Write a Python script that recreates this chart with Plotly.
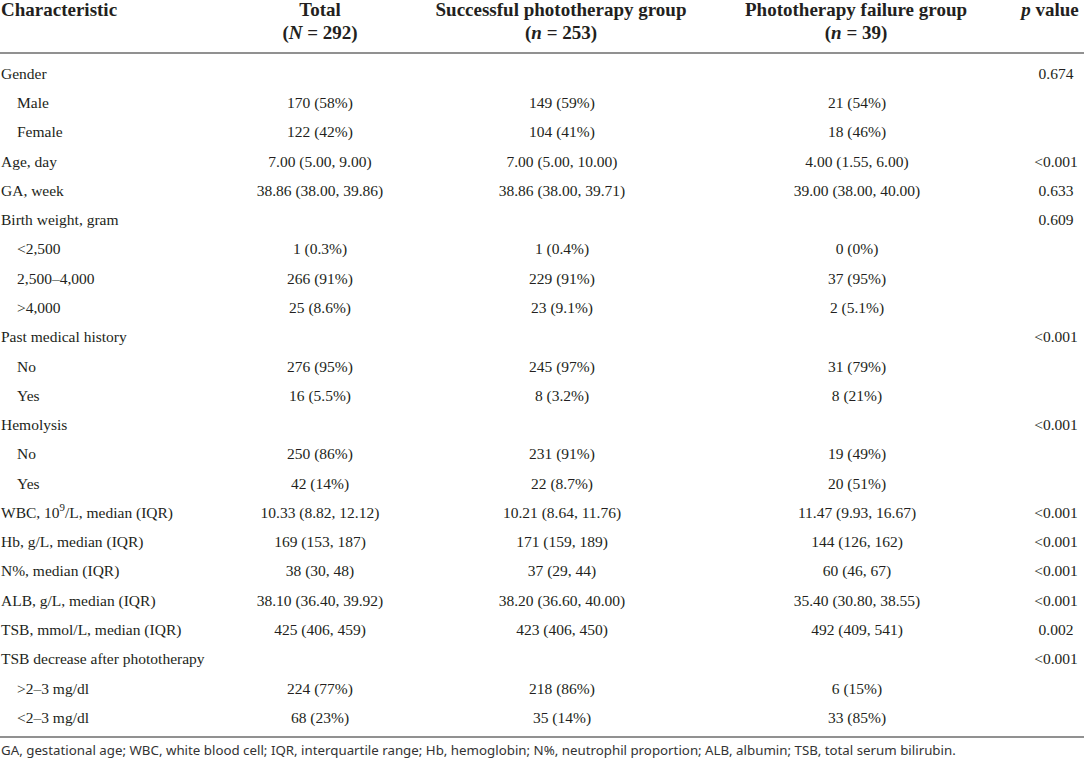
import plotly.graph_objects as go

# table contents (row order as printed)
characteristics = ["Gender", "Male", "Female", "Age, day", "GA, week", "Birth weight, gram",
                   "<2,500", "2,500–4,000", ">4,000", "Past medical history", "No", "Yes",
                   "Hemolysis", "No", "Yes", "WBC, 10<sup>9</sup>/L, median (IQR)",
                   "Hb, g/L, median (IQR)", "N%, median (IQR)", "ALB, g/L, median (IQR)",
                   "TSB, mmol/L, median (IQR)", "TSB decrease after phototherapy",
                   ">2–3 mg/dl", "<2–3 mg/dl"]
is_subrow = [False, True, True, False, False, False, True, True, True, False, True, True,
             False, True, True, False, False, False, False, False, False, True, True]

total = ["", "170 (58%)", "122 (42%)", "7.00 (5.00, 9.00)", "38.86 (38.00, 39.86)", "",
         "1 (0.3%)", "266 (91%)", "25 (8.6%)", "", "276 (95%)", "16 (5.5%)", "",
         "250 (86%)", "42 (14%)", "10.33 (8.82, 12.12)", "169 (153, 187)", "38 (30, 48)",
         "38.10 (36.40, 39.92)", "425 (406, 459)", "", "224 (77%)", "68 (23%)"]
success = ["", "149 (59%)", "104 (41%)", "7.00 (5.00, 10.00)", "38.86 (38.00, 39.71)", "",
           "1 (0.4%)", "229 (91%)", "23 (9.1%)", "", "245 (97%)", "8 (3.2%)", "",
           "231 (91%)", "22 (8.7%)", "10.21 (8.64, 11.76)", "171 (159, 189)", "37 (29, 44)",
           "38.20 (36.60, 40.00)", "423 (406, 450)", "", "218 (86%)", "35 (14%)"]
failure = ["", "21 (54%)", "18 (46%)", "4.00 (1.55, 6.00)", "39.00 (38.00, 40.00)", "",
           "0 (0%)", "37 (95%)", "2 (5.1%)", "", "31 (79%)", "8 (21%)", "",
           "19 (49%)", "20 (51%)", "11.47 (9.93, 16.67)", "144 (126, 162)", "60 (46, 67)",
           "35.40 (30.80, 38.55)", "492 (409, 541)", "", "6 (15%)", "33 (85%)"]
p_values = ["0.674", "", "", "<0.001", "0.633", "0.609", "", "", "", "<0.001", "", "",
            "<0.001", "", "", "<0.001", "<0.001", "<0.001", "<0.001", "0.002", "<0.001", "", ""]

header_top = ["Characteristic", "Total", "Successful phototherapy group",
              "Phototherapy failure group", "<i>p</i> value"]
header_bottom = ["", "(<i>N</i> = 292)", "(<i>n</i> = 253)", "(<i>n</i> = 39)", ""]

footnote = ("GA, gestational age; WBC, white blood cell; IQR, interquartile range; Hb, hemoglobin; "
            "N%, neutrophil proportion; ALB, albumin; TSB, total serum bilirubin.")

# layout: x in pixels, y in row units (row 0 = Gender)
W, H = 1084, 765
ROW0_PX, ROW_PX = 75, 29.27
col_x = [1, 320, 562, 857, 1056]
head_x = [1, 320, 561, 856, 1050]
indent = 16


def row_of(px):
    return (px - ROW0_PX) / ROW_PX


def esc(s):
    if "<sup>" in s:
        return s
    return s.replace("<", "&lt;").replace(">", "&gt;")


SERIF = "Liberation Serif"
body_font = dict(family=SERIF, size=15.5, color="#231f20")
head_font = dict(family=SERIF, size=19, color="#231f20")


def text_trace(xs, ys, texts, pos, font):
    keep = [i for i, t in enumerate(texts) if t]
    return go.Scatter(x=[xs[i] for i in keep], y=[ys[i] for i in keep],
                      text=[texts[i] for i in keep], mode="text", textposition=pos,
                      textfont=font, hoverinfo="skip", cliponaxis=False)


rows = list(range(len(characteristics)))
fig = go.Figure()

# first column
fig.add_trace(text_trace([col_x[0] + (indent if s else 0) for s in is_subrow], rows,
                         [esc(c) for c in characteristics], "middle right", body_font))

# value columns
for cx, vals in zip(col_x[1:], [total, success, failure, p_values]):
    fig.add_trace(text_trace([cx] * len(vals), rows, [esc(v) for v in vals],
                             "middle center", body_font))

# header
fig.add_trace(text_trace(head_x[:1], [row_of(11.5)], ["<b>" + header_top[0] + "</b>"],
                         "middle right", head_font))
fig.add_trace(text_trace(head_x[1:], [row_of(11.5)] * 4,
                         ["<b>" + h + "</b>" for h in header_top[1:]], "middle center", head_font))
fig.add_trace(text_trace(head_x[1:4], [row_of(34.5)] * 3,
                         ["<b>" + h + "</b>" for h in header_bottom[1:4]], "middle center", head_font))

# footnote
fig.add_trace(text_trace([1], [row_of(752)], [footnote], "middle right",
                         dict(family="Noto Sans", size=13.3, color="#333333")))

# rules
for py in [53, 737]:
    fig.add_shape(type="line", xref="x", yref="y", x0=0, x1=W, y0=row_of(py), y1=row_of(py),
                  line=dict(color="#6d6d6d", width=1.5))

fig.update_layout(
    width=W, height=H, margin=dict(l=0, r=0, t=0, b=0),
    paper_bgcolor="white", plot_bgcolor="white", showlegend=False,
    xaxis=dict(range=[0, W], visible=False, fixedrange=True),
    yaxis=dict(range=[row_of(H), row_of(0)], visible=False, fixedrange=True),
)

fig.write_html("out.html", config={"displayModeBar": False},
               post_script="document.body.style.margin='0';")
